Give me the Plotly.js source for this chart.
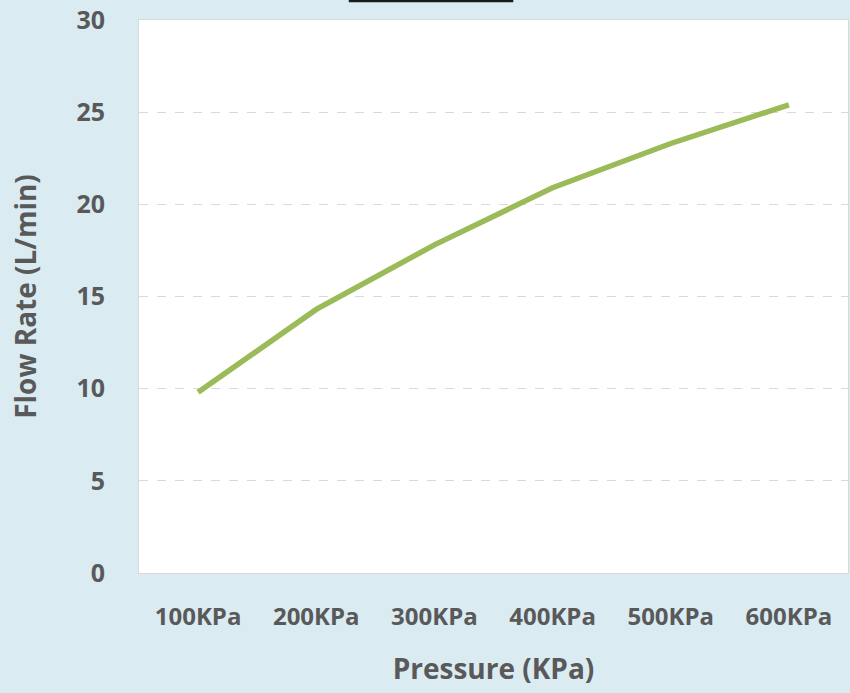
<!DOCTYPE html>
<html>
<head>
<meta charset="utf-8">
<script src="https://cdn.plot.ly/plotly-3.0.1.min.js"></script>
<style>html,body{margin:0;padding:0;background:#DAEBF2;}#chart{width:850px;height:693px;}</style>
</head>
<body>
<div id="chart"></div>
<script>
const categories = ["100KPa", "200KPa", "300KPa", "400KPa", "500KPa", "600KPa"];
const flowRate = [9.8, 14.3, 17.8, 20.9, 23.3, 25.4];
const yTicks = [0, 5, 10, 15, 20, 25, 30];

const textColor = "#595959";
const fontFamily = "Open Sans, Noto Sans, sans-serif";

const trace = {
  x: categories,
  y: flowRate,
  type: "scatter",
  mode: "lines",
  line: { color: "#9BBB59", width: 5.5 },
  hoverinfo: "skip"
};

const layout = {
  width: 850,
  height: 693,
  paper_bgcolor: "#DAEBF2",
  plot_bgcolor: "#FFFFFF",
  margin: { l: 139, r: 2, t: 20, b: 120 },
  showlegend: false,
  font: { family: fontFamily, color: textColor },
  xaxis: {
    type: "category",
    range: [-0.5, 5.5],
    showgrid: false,
    zeroline: false,
    showline: true,
    mirror: true,
    linecolor: "#D9D9D9",
    linewidth: 1,
    ticks: "",
    ticklabelstandoff: 22,
    tickfont: { family: fontFamily, size: 24, color: textColor, weight: "bold" },
    title: { text: "Pressure (KPa)", standoff: 28, font: { family: fontFamily, size: 28, color: textColor, weight: "bold" } }
  },
  yaxis: {
    range: [0, 30],
    tickvals: yTicks,
    showgrid: true,
    gridcolor: "#D9D9D9",
    griddash: "dash",
    gridwidth: 1.2,
    zeroline: false,
    showline: true,
    mirror: true,
    linecolor: "#D9D9D9",
    linewidth: 1,
    ticks: "",
    ticklabelstandoff: 28,
    tickfont: { family: fontFamily, size: 25, color: textColor, weight: "bold" },
    title: { text: "Flow Rate (L/min)", standoff: 31, font: { family: fontFamily, size: 28, color: textColor, weight: "bold" } }
  },
  shapes: [
    { type: "rect", xref: "paper", yref: "paper", x0: (350 - 139) / 709, x1: (512 - 139) / 709, y0: (573 - 1) / 553, y1: (573 + 40) / 553, line: { color: "#1a1a1a", width: 2.5 }, fillcolor: "rgba(0,0,0,0)" }
  ]
};

Plotly.newPlot("chart", [trace], layout, { displayModeBar: false, staticPlot: true });
</script>
</body>
</html>
